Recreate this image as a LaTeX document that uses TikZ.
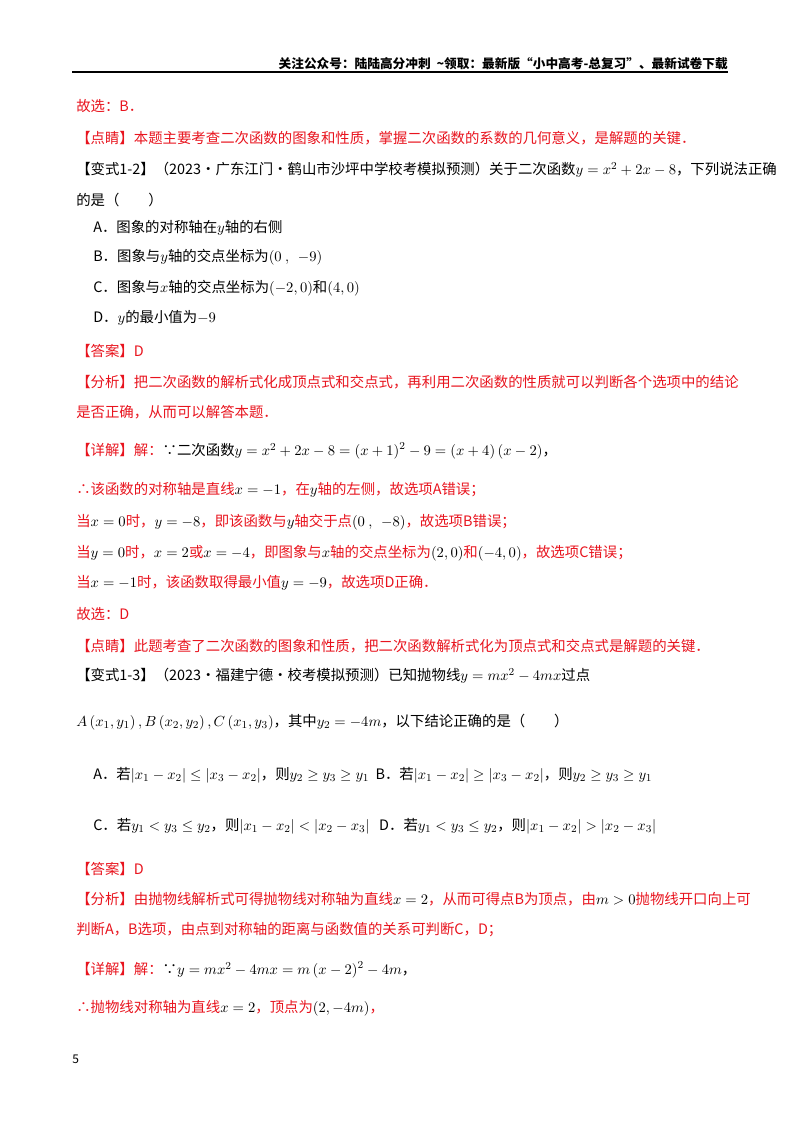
\documentclass[tikz,border=0pt]{standalone}
\usepackage{fontspec}
\setmainfont{Noto Sans CJK SC}
\usepackage{amsmath}
\definecolor{rd}{HTML}{E8141E}
\newcommand{\m}[1]{{\color{black}$#1$}}
\begin{document}
\begin{tikzpicture}[x=0.75pt,y=-0.75pt,
  t/.style={anchor=west,inner sep=0,font=\fontsize{10.8pt}{13pt}\selectfont},
  r/.style={t,text=rd},b/.style={t,text=black}]
\useasboundingbox (0,0) rectangle (800,1132);
\node[t,anchor=east,font=\fontsize{9.5pt}{11pt}\selectfont\bfseries] (hd) at (728,64) {关注公众号：陆陆高分冲刺\ \ \textasciitilde 领取：最新版“小中高考-总复习”、最新试卷下载};
\draw[line width=0.9pt] (72,72) coordinate (l1) -- (728,72) coordinate (l2);
\node[r] (n1) at (76,106) {故选：B．};
\node[r] (n2) at (76,138) {【点睛】本题主要考查二次函数的图象和性质，掌握二次函数的系数的几何意义，是解题的关键．};
\node[b] (n3) at (76,170) {【变式1-2】（2023·广东江门·鹤山市沙坪中学校考模拟预测）关于二次函数\m{y=x^2+2x-8}，下列说法正确};
\node[b] (n4) at (76,200) {的是（\qquad）};
\node[b] (n5) at (93,228) {A．图象的对称轴在\m{y}轴的右侧};
\node[b] (n6) at (93,257) {B．图象与\m{y}轴的交点坐标为\m{\left(0\ ,\ \ -9\right)}};
\node[b] (n7) at (93,288) {C．图象与\m{x}轴的交点坐标为\m{\left(-2,0\right)}和\m{\left(4,0\right)}};
\node[b] (n8) at (93,318) {D．\m{y}的最小值为\m{-9}};
\node[r] (n9) at (76,351) {【答案】D};
\node[r] (n10) at (76,382) {【分析】把二次函数的解析式化成顶点式和交点式，再利用二次函数的性质就可以判断各个选项中的结论};
\node[r] (n11) at (76,412) {是否正确，从而可以解答本题．};
\node[r] (n12) at (76,451) {【详解】解：{\color{black}∵二次函数$y=x^2+2x-8=\left(x+1\right)^2-9=\left(x+4\right)\left(x-2\right)$，}};
\node[r] (n13) at (76,490) {∴该函数的对称轴是直线\m{x=-1}，在\m{y}轴的左侧，故选项A错误；};
\node[r] (n14) at (76,522) {当\m{x=0}时，\m{y=-8}，即该函数与\m{y}轴交于点\m{\left(0\ ,\ \ -8\right)}，故选项B错误；};
\node[r] (n15) at (76,553) {当\m{y=0}时，\m{x=2}或\m{x=-4}，即图象与\m{x}轴的交点坐标为\m{\left(2,0\right)}和\m{\left(-4,0\right)}，故选项C错误；};
\node[r] (n16) at (76,583) {当\m{x=-1}时，该函数取得最小值\m{y=-9}，故选项D正确．};
\node[r] (n17) at (76,614) {故选：D};
\node[r] (n18) at (76,646) {【点睛】此题考查了二次函数的图象和性质，把二次函数解析式化为顶点式和交点式是解题的关键．};
\node[b] (n19) at (76,676) {【变式1-3】（2023·福建宁德·校考模拟预测）已知抛物线\m{y=mx^2-4mx}过点};
\node[b] (n20) at (76,722) {\m{A\left(x_1,y_1\right),B\left(x_2,y_2\right),C\left(x_1,y_3\right)}，其中\m{y_2=-4m}，以下结论正确的是（\qquad）};
\node[b] (n21) at (93,775) {A．若\m{\left|x_1-x_2\right|\le\left|x_3-x_2\right|}，则\m{y_2\ge y_3\ge y_1}\ \ B．若\m{\left|x_1-x_2\right|\ge\left|x_3-x_2\right|}，则\m{y_2\ge y_3\ge y_1}};
\node[b] (n22) at (93,826) {C．若\m{y_1<y_3\le y_2}，则\m{\left|x_1-x_2\right|<\left|x_2-x_3\right|}\ \ \ D．若\m{y_1<y_3\le y_2}，则\m{\left|x_1-x_2\right|>\left|x_2-x_3\right|}};
\node[r] (n23) at (76,869) {【答案】D};
\node[r] (n24) at (76,899) {【分析】由抛物线解析式可得抛物线对称轴为直线\m{x=2}，从而可得点B为顶点，由\m{m>0}抛物线开口向上可};
\node[r] (n25) at (76,930) {判断A，B选项，由点到对称轴的距离与函数值的关系可判断C，D；};
\node[r] (n26) at (76,970) {【详解】解：{\color{black}∵$y=mx^2-4mx=m\left(x-2\right)^2-4m$，}};
\node[r] (n27) at (76,1008) {∴抛物线对称轴为直线\m{x=2}，顶点为\m{\left(2,-4m\right)}，};
\node[b,font=\fontsize{9pt}{11pt}\selectfont] (pg) at (72,1059) {5};
\end{tikzpicture}
\end{document}
